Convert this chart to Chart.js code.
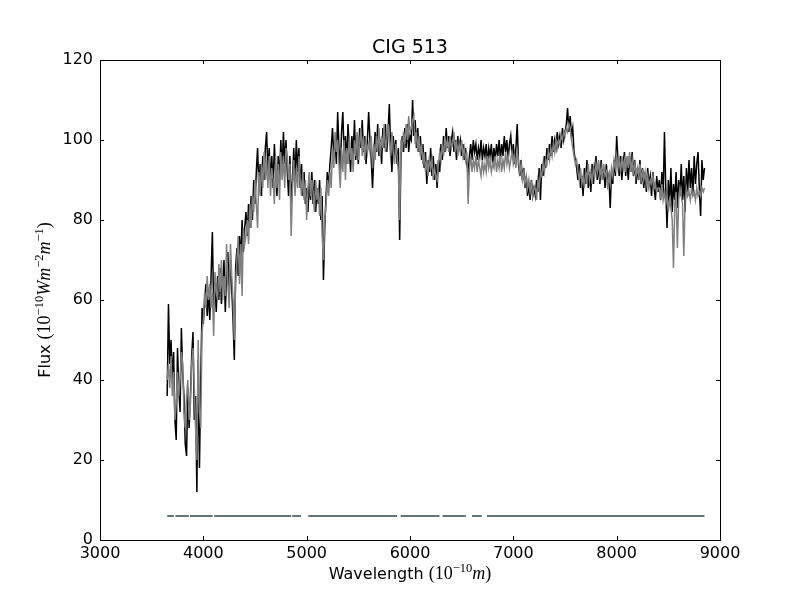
<!DOCTYPE html>
<html><head><meta charset="utf-8">
<script src="https://cdn.jsdelivr.net/npm/chart.js@4.4.1/dist/chart.umd.min.js"></script>
<style>html,body{margin:0;padding:0;background:#fff}canvas{display:block}</style>
</head><body>
<canvas id="c" width="800" height="600"></canvas>
<script>
const titleText = 'CIG 513';
const xTicks = [3000, 4000, 5000, 6000, 7000, 8000, 9000];
const yTicks = [0, 20, 40, 60, 80, 100, 120];

const wavelength = [
  3650,3662.5,3675,3687.5,3700,3712.5,3725,3737.5,3750,3762.5,3775,3787.5,3800,3812.5,3825,3837.5,3850,3862.5,3875,3887.5,3900,3912.5,3925,3937.5,3950,3962.5,3975,3987.5,4000,
  4012.5,4025,4037.5,4050,4062.5,4075,4087.5,4100,4112.5,4125,4137.5,4150,4162.5,4175,4187.5,4200,4212.5,4225,4237.5,4250,4262.5,4275,4287.5,4300,4312.5,4325,4337.5,4350,4362.5,4375,4387.5,4400,
  4412.5,4425,4437.5,4450,4462.5,4475,4487.5,4500,4512.5,4525,4537.5,4550,4562.5,4575,4587.5,4600,4612.5,4625,4637.5,4650,4662.5,4675,4687.5,4700,4712.5,4725,4737.5,4750,4762.5,4775,4787.5,4800,
  4812.5,4825,4837.5,4850,4862.5,4875,4887.5,4900,4912.5,4925,4937.5,4950,4962.5,4975,4987.5,5000,5012.5,5025,5037.5,5050,5062.5,5075,5087.5,5100,5112.5,5125,5137.5,5150,5162.5,5175,5187.5,5200,
  5212.5,5225,5237.5,5250,5262.5,5275,5287.5,5300,5312.5,5325,5337.5,5350,5362.5,5375,5387.5,5400,5412.5,5425,5437.5,5450,5462.5,5475,5487.5,5500,5512.5,5525,5537.5,5550,5562.5,5575,5587.5,5600,
  5612.5,5625,5637.5,5650,5662.5,5675,5687.5,5700,5712.5,5725,5737.5,5750,5762.5,5775,5787.5,5800,5812.5,5825,5837.5,5850,5862.5,5875,5887.5,5900,5912.5,5925,5937.5,5950,5962.5,5975,5987.5,6000,
  6012.5,6025,6037.5,6050,6062.5,6075,6087.5,6100,6112.5,6125,6137.5,6150,6162.5,6175,6187.5,6200,6212.5,6225,6237.5,6250,6262.5,6275,6287.5,6300,6312.5,6325,6337.5,6350,6362.5,6375,6387.5,6400,
  6412.5,6425,6437.5,6450,6462.5,6475,6487.5,6500,6512.5,6525,6537.5,6550,6562.5,6575,6587.5,6600,6612.5,6625,6637.5,6650,6662.5,6675,6687.5,6700,6712.5,6725,6737.5,6750,6762.5,6775,6787.5,6800,
  6812.5,6825,6837.5,6850,6862.5,6875,6887.5,6900,6912.5,6925,6937.5,6950,6962.5,6975,6987.5,7000,7012.5,7025,7037.5,7050,7062.5,7075,7087.5,7100,7112.5,7125,7137.5,7150,7162.5,7175,7187.5,7200,
  7212.5,7225,7237.5,7250,7262.5,7275,7287.5,7300,7312.5,7325,7337.5,7350,7362.5,7375,7387.5,7400,7412.5,7425,7437.5,7450,7462.5,7475,7487.5,7500,7512.5,7525,7537.5,7550,7562.5,7575,7587.5,7600,
  7612.5,7625,7637.5,7650,7662.5,7675,7687.5,7700,7712.5,7725,7737.5,7750,7762.5,7775,7787.5,7800,7812.5,7825,7837.5,7850,7862.5,7875,7887.5,7900,7912.5,7925,7937.5,7950,7962.5,7975,7987.5,8000,
  8012.5,8025,8037.5,8050,8062.5,8075,8087.5,8100,8112.5,8125,8137.5,8150,8162.5,8175,8187.5,8200,8212.5,8225,8237.5,8250,8262.5,8275,8287.5,8300,8312.5,8325,8337.5,8350,8362.5,8375,8387.5,8400,
  8412.5,8425,8437.5,8450,8462.5,8475,8487.5,8500,8512.5,8525,8537.5,8550,8562.5,8575,8587.5,8600,8612.5,8625,8637.5,8650,8662.5,8675,8687.5,8700,8712.5,8725,8737.5,8750,8762.5,8775,8787.5,8800,8812.5,8825,8837.5,8850
];

const fluxObserved = [
  36,59,44,50,40,47,30,25,48,38,32,53,42,36,24,21,38,28,36,46,52,30,36,12,45,18,40,58,54,
  60,64,56,62,55,66,77,58,64,57,66,60,68,59,64,70,57,66,72,60,70,63,55,45,68,73,66,76,70,80,72,78,
  82,76,84,78,86,80,90,84,92,98,88,94,86,96,90,98,102,92,98,90,96,88,99,92,86,96,90,100,92,102,94,100,
  92,86,96,84,90,98,90,100,92,98,88,94,86,92,84,88,82,90,85,92,84,90,82,88,84,90,80,86,65,78,86,92,
  88,94,98,103,96,100,94,107,98,92,102,107,96,101,94,104,98,92,101,96,105,95,100,94,103,98,105,97,101,94,100,107,
  100,95,88,96,102,97,104,96,100,94,103,98,104,97,102,109,98,92,101,96,100,94,98,75,96,101,97,103,98,104,97,101,
  100,110,101,105,98,103,97,101,95,99,93,97,89,95,92,98,91,96,90,94,88,95,92,99,95,101,97,103,98,101,96,100,
  102,97,100,95,101,98,100,96,99,95,98,94,92,96,99,95,100,97,99,95,98,96,100,95,98,96,99,94,98,96,99,94,
  98,95,99,96,100,95,99,96,101,97,100,95,99,101,96,99,94,98,104,94,91,95,90,93,88,91,86,89,85,90,86,88,
  86,90,87,93,85,94,91,96,93,98,95,99,96,101,97,100,98,102,99,101,98,103,100,102,104,108,102,106,101,103,97,95,
  93,90,94,88,91,86,93,89,95,88,92,87,94,89,93,96,90,94,89,95,90,93,88,94,89,91,83,92,89,95,91,101,
  95,91,96,90,94,97,91,95,90,96,92,97,91,95,89,93,90,95,89,93,88,92,87,93,89,91,86,92,88,85,91,87,
  90,85,92,86,102,88,78,90,84,93,82,89,85,92,83,90,86,94,85,91,82,93,87,95,88,93,86,96,89,94,97,88,81,95,90,93
];

const fluxModel = [
  40,44,38,46,36,42,30,34,42,36,40,47,44,32,28,36,40,30,34,44,48,38,28,20,50,32,28,52,55,
  62,58,66,60,64,58,62,51,67,62,60,69,62,70,60,66,61,74,64,58,74,66,60,50,64,70,76,64,74,61,78,74,
  76,80,74,84,78,86,82,90,84,78,92,86,94,88,97,90,95,88,96,86,93,90,84,96,88,94,85,97,90,96,88,98,
  96,90,94,76,88,95,86,93,88,96,90,86,92,85,90,80,88,92,86,90,87,82,90,85,88,81,88,76,70,80,84,90,
  86,92,88,98,93,102,97,100,94,88,98,92,100,90,98,94,101,95,98,92,100,96,102,95,99,103,96,101,95,100,97,99,
  97,101,93,99,95,101,97,103,96,101,98,104,97,100,104,100,96,102,97,94,99,96,92,80,100,97,102,99,104,100,106,102,
  103,105,106,99,102,97,101,96,99,94,97,92,95,91,96,93,95,90,93,91,90,94,97,95,99,96,101,98,100,97,101,98,
  99,102,97,100,96,99,97,100,96,98,95,97,84,93,96,92,95,93,96,92,95,93,91,95,92,94,92,96,93,95,92,94,
  93,96,92,95,93,96,92,95,93,97,94,96,93,95,97,94,96,93,97,95,92,94,90,92,89,91,88,90,87,89,86,88,
  88,85,90,88,92,91,94,92,95,94,97,95,98,96,99,97,100,98,100,99,101,100,102,101,103,102,104,103,100,98,96,94,
  95,92,90,93,89,91,88,92,90,94,90,92,89,93,91,94,92,95,91,93,90,94,91,92,88,91,89,93,91,95,93,96,
  93,95,92,96,93,95,92,96,93,97,92,95,92,94,91,93,91,94,90,92,90,92,89,91,88,90,89,91,88,89,87,88,
  88,86,89,85,87,84,86,82,85,83,80,68,84,87,73,85,88,86,84,71,85,88,86,87,85,88,86,87,85,88,86,87,86,88,87,88
];

const maskStart = [3650, 3730, 3870, 4105, 4860, 5015, 5910, 6315, 6600, 6745];
const maskEnd   = [3715, 3860, 4090, 4850, 4945, 5875, 6285, 6540, 6695, 8850];
const maskLevel = 6;

const observedPts = wavelength.map((w, i) => ({ x: w, y: fluxObserved[i] }));
const modelPts = wavelength.map((w, i) => ({ x: w, y: fluxModel[i] }));
const maskPts = [];
maskStart.forEach((s, i) => {
  maskPts.push({ x: s, y: maskLevel }, { x: maskEnd[i], y: maskLevel });
  if (i < maskStart.length - 1) maskPts.push({ x: (maskEnd[i] + maskStart[i + 1]) / 2, y: null });
});

function richWidth(ctx, parts) {
  let w = 0;
  parts.forEach(p => { ctx.font = p.f; w += ctx.measureText(p.t).width; });
  return w;
}
function drawRich(ctx, parts, cx, baseY) {
  const w = richWidth(ctx, parts);
  let x = cx - w / 2;
  ctx.textAlign = 'left';
  ctx.textBaseline = 'alphabetic';
  parts.forEach(p => {
    ctx.font = p.f;
    ctx.fillText(p.t, x, baseY + (p.dy || 0));
    x += ctx.measureText(p.t).width;
  });
}

const SANS = '"DejaVu Sans"';
const SERIF = '"Liberation Serif"';
const xLabelParts = [
  { t: 'Wavelength ', f: '16px ' + SANS },
  { t: '(10', f: '18px ' + SERIF },
  { t: '\u221210', f: '12.5px ' + SERIF, dy: -7 },
  { t: 'm', f: 'italic 18px ' + SERIF },
  { t: ')', f: '18px ' + SERIF }
];
const yLabelParts = [
  { t: 'Flux ', f: '16px ' + SANS },
  { t: '(10', f: '18px ' + SERIF },
  { t: '\u221210', f: '12.5px ' + SERIF, dy: -7 },
  { t: 'Wm', f: 'italic 18px ' + SERIF },
  { t: '\u22122', f: '12.5px ' + SERIF, dy: -7 },
  { t: 'm', f: 'italic 18px ' + SERIF },
  { t: '\u22121', f: '12.5px ' + SERIF, dy: -7 },
  { t: ')', f: '18px ' + SERIF }
];

const decorPlugin = {
  id: 'decor',
  afterDraw(chart) {
    const { ctx, chartArea: a, scales } = chart;
    const xs = scales.x, ys = scales.y;
    ctx.save();
    ctx.strokeStyle = '#000';
    ctx.lineWidth = 1;
    ctx.strokeRect(Math.round(a.left) + 0.5, Math.round(a.top) + 0.5, Math.round(a.right - a.left), Math.round(a.bottom - a.top));
    ctx.beginPath();
    xTicks.forEach(v => {
      const px = Math.round(xs.getPixelForValue(v)) + 0.5;
      ctx.moveTo(px, a.bottom); ctx.lineTo(px, a.bottom - 4);
      ctx.moveTo(px, a.top); ctx.lineTo(px, a.top + 4);
    });
    yTicks.forEach(v => {
      const py = Math.round(ys.getPixelForValue(v)) + 0.5;
      ctx.moveTo(a.left, py); ctx.lineTo(a.left + 4, py);
      ctx.moveTo(a.right, py); ctx.lineTo(a.right - 4, py);
    });
    ctx.stroke();
    ctx.fillStyle = '#000';
    ctx.font = '19px ' + SANS;
    ctx.textAlign = 'center';
    ctx.textBaseline = 'alphabetic';
    ctx.fillText(titleText, (a.left + a.right) / 2, 53);
    drawRich(ctx, xLabelParts, (a.left + a.right) / 2, 579);
    ctx.save();
    ctx.translate(50, (a.top + a.bottom) / 2);
    ctx.rotate(-Math.PI / 2);
    drawRich(ctx, yLabelParts, 0, 0);
    ctx.restore();
    ctx.restore();
  }
};

new Chart(document.getElementById('c'), {
  type: 'line',
  data: {
    datasets: [
      { label: 'model', data: modelPts, borderColor: '#808080', borderWidth: 1.5, pointRadius: 0, tension: 0 },
      { label: 'observed', data: observedPts, borderColor: '#000000', borderWidth: 1.5, pointRadius: 0, tension: 0 },
      { label: 'mask', data: maskPts, borderColor: '#66737b', borderWidth: 2.2, pointRadius: 0, spanGaps: false, tension: 0 }
    ]
  },
  options: {
    responsive: false,
    animation: false,
    events: [],
    layout: { padding: { left: 0, right: 80, top: 60, bottom: 0 } },
    plugins: { legend: { display: false }, title: { display: false }, tooltip: { enabled: false } },
    scales: {
      x: {
        type: 'linear', min: 3000, max: 9000,
        afterBuildTicks(s) { s.ticks = xTicks.map(v => ({ value: v })); },
        ticks: { font: { family: 'DejaVu Sans', size: 16 }, color: '#000', padding: 4, maxRotation: 0, autoSkip: false, callback: v => String(v) },
        grid: { display: false, drawTicks: false },
        border: { display: false },
        afterFit(s) { s.height = 60; }
      },
      y: {
        type: 'linear', min: 0, max: 120,
        afterBuildTicks(s) { s.ticks = yTicks.map(v => ({ value: v })); },
        ticks: { font: { family: 'DejaVu Sans', size: 16 }, color: '#000', padding: 7, autoSkip: false, callback: v => String(v) },
        grid: { display: false, drawTicks: false },
        border: { display: false },
        afterFit(s) { s.width = 100; }
      }
    }
  },
  plugins: [decorPlugin]
});
</script>
</body></html>
